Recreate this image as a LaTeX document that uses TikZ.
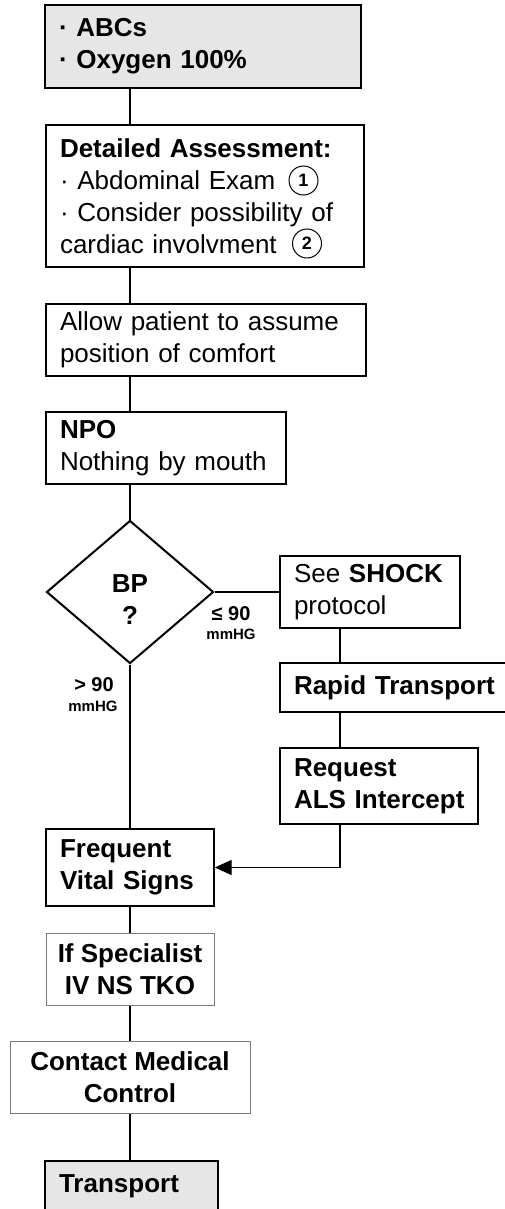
\documentclass[tikz,border=0pt]{standalone}
\usepackage{fontspec}
\setmainfont{Liberation Sans}
\usetikzlibrary{shapes.geometric,arrows.meta}
\definecolor{boxgray}{HTML}{E6E6E6}
\definecolor{edgegray}{HTML}{7A7A7A}
\newcommand\nohyphflow{\hyphenpenalty=10000\relax\exhyphenpenalty=10000\relax}
\begin{document}
\begin{tikzpicture}[x=1pt,y=-1pt,
  box/.style={draw, rectangle, line width=1.4pt, inner xsep=14pt, inner ysep=0pt,
    align=left, font=\fontsize{26}{32}\selectfont\nohyphflow},
  thickbox/.style={box, line width=2.4pt, fill=boxgray},
  graybox/.style={draw=edgegray, rectangle, line width=1pt, inner xsep=4pt, inner ysep=0pt,
    align=center, font=\bfseries\fontsize{26}{32}\selectfont},
  numc/.style={circle, draw, line width=1pt, minimum size=29pt, inner sep=0pt,
    font=\bfseries\fontsize{18}{18}\selectfont},
  dec/.style={diamond, draw, line width=2pt, inner sep=0pt},
  dectext/.style={align=center, font=\bfseries\fontsize{26}{32}\selectfont},
  lblbig/.style={anchor=base, inner sep=0pt, font=\bfseries\fontsize{20}{20}\selectfont},
  lblsmall/.style={anchor=base, inner sep=0pt, font=\bfseries\fontsize{15}{15}\selectfont},
  conn/.style={line width=1.4pt},
  arr/.style={conn, -{Triangle[length=17pt,width=15pt]}}]
\useasboundingbox (0,0) rectangle (505,1209);

\coordinate (spine) at (130,0);
\coordinate (rsp) at (340,0);

\node[thickbox, text width=288pt, minimum height=83pt] (abc) at (203,46.5)
  {\textbf{· ABCs}\\\textbf{· Oxygen~100\%}};
\node[box, text width=290pt, minimum height=142pt] (da) at (205,196)
  {\textbf{Detailed~Assessment:}\\· Abdominal~Exam\\· Consider~possibility~of\\cardiac~involvment};
\node[numc] (n1) at (303.5,180.5) {1};
\node[numc] (n2) at (307,243.5) {2};
\node[box, text width=292pt, minimum height=72pt] (pos) at (206,340)
  {Allow~patient~to~assume\\position~of~comfort};
\node[box, text width=212pt, minimum height=72pt] (npo) at (166,448)
  {\textbf{NPO}\\Nothing~by~mouth};

\node[dec, minimum width=167pt, minimum height=143pt] (bp) at (130,592) {};
\node[dectext] (bpt) at (130,600) {BP\\?};

\node[box, text width=152pt, minimum height=72pt] (shock) at (370,592)
  {See~\textbf{SHOCK}\\protocol};
\node[box, text width=207pt, minimum height=49pt] (rapid) at (397.5,687.5)
  {\textbf{Rapid~Transport}};
\node[box, text width=170pt, minimum height=76pt] (req) at (379,786)
  {\textbf{Request}\\\mbox{\textbf{ALS Intercept}}};

\node[box, text width=140pt, minimum height=77pt] (freq) at (130,867.5)
  {\textbf{Frequent}\\\textbf{Vital~Signs}};
\node[graybox, minimum width=168pt, minimum height=72pt] (spec) at (130,969)
  {If Specialist\\IV NS TKO};
\node[graybox, minimum width=240pt, minimum height=72pt] (cont) at (130,1077)
  {Contact Medical\\Control};
\node[thickbox, text width=145pt, minimum height=51pt] (trans) at (131.5,1186.5)
  {\textbf{Transport}};

\node[lblbig] (le) at (231,620) {≤ 90};
\node[lblsmall] (leu) at (231,639) {mmHG};
\node[lblbig] (gt) at (94,691) {> 90};
\node[lblsmall] (gtu) at (93,711) {mmHG};

\draw[conn] (abc.south -| spine) -- (da.north -| spine);
\draw[conn] (da.south -| spine) -- (pos.north -| spine);
\draw[conn] (pos.south -| spine) -- (npo.north -| spine);
\draw[conn] (npo.south -| spine) -- (bp.north);
\draw[conn] (bp.east) -- (shock.west);
\draw[conn] (shock.south -| rsp) -- (rapid.north -| rsp);
\draw[conn] (rapid.south -| rsp) -- (req.north -| rsp);
\draw[arr] (req.south -| rsp) |- (freq.east);
\draw[conn] (bp.south) -- (freq.north);
\draw[conn] (freq.south) -- (spec.north);
\draw[conn] (spec.south) -- (cont.north);
\draw[conn] (cont.south) -- (trans.north -| spine);
\end{tikzpicture}
\end{document}
